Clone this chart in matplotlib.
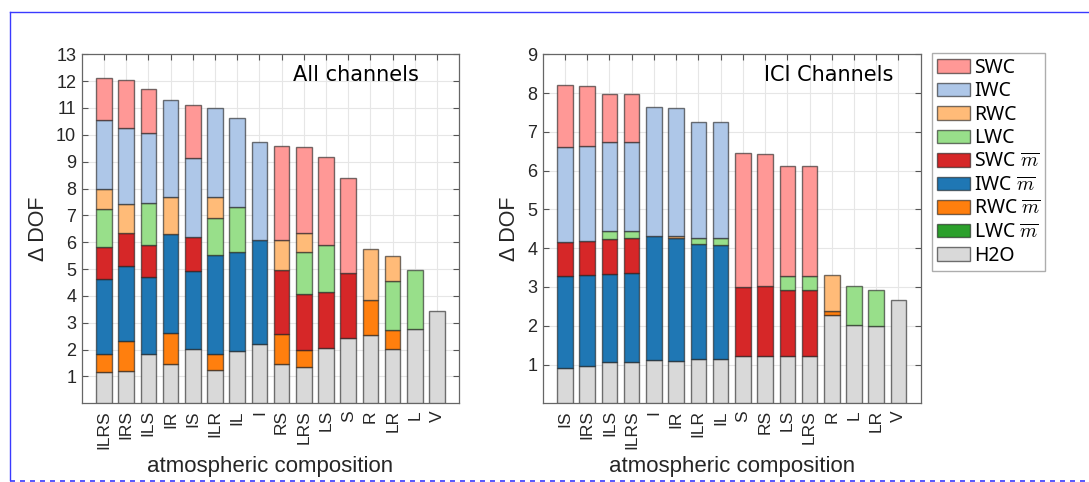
import numpy as np
import matplotlib
matplotlib.use("Agg")
import matplotlib.pyplot as plt
from matplotlib.lines import Line2D
from matplotlib.patches import Patch

# ---------------- data ----------------
cats_all = ['ILRS', 'IRS', 'ILS', 'IR', 'IS', 'ILR', 'IL', 'I', 'RS', 'LRS', 'LS', 'S', 'R', 'LR', 'L', 'V']
h2o_all  = [1.18, 1.20, 1.85, 1.45, 2.01, 1.23, 1.96, 2.20, 1.45, 1.34, 2.05, 2.42, 2.54, 2.03, 2.78, 3.42]
lwcm_all = [0, 0, 0, 0, 0, 0, 0, 0, 0, 0, 0, 0, 0, 0, 0, 0]
rwcm_all = [0.64, 1.12, 0, 1.18, 0, 0.62, 0, 0, 1.14, 0.63, 0, 0, 1.31, 0.69, 0, 0]
iwcm_all = [2.82, 2.78, 2.86, 3.67, 2.92, 3.66, 3.66, 3.88, 0, 0, 0, 0, 0, 0, 0, 0]
swcm_all = [1.17, 1.26, 1.17, 0, 1.27, 0, 0, 0, 2.36, 2.09, 2.08, 2.42, 0, 0, 0, 0]
lwc_all  = [1.44, 0, 1.59, 0, 0, 1.40, 1.68, 0, 0, 1.59, 1.75, 0, 0, 1.82, 2.20, 0]
rwc_all  = [0.72, 1.07, 0, 1.38, 0, 0.79, 0, 0, 1.15, 0.71, 0, 0, 1.88, 0.94, 0, 0]
iwc_all  = [2.59, 2.83, 2.59, 3.60, 2.92, 3.30, 3.33, 3.65, 0, 0, 0, 0, 0, 0, 0, 0]
swc_all  = [1.57, 1.80, 1.66, 0, 2.01, 0, 0, 0, 3.50, 3.19, 3.30, 3.57, 0, 0, 0, 0]

cats_ici = ['IS', 'IRS', 'ILS', 'ILRS', 'I', 'IR', 'ILR', 'IL', 'S', 'RS', 'LS', 'LRS', 'R', 'L', 'LR', 'V']
h2o_ici  = [0.91, 0.95, 1.06, 1.06, 1.11, 1.08, 1.13, 1.13, 1.23, 1.23, 1.23, 1.23, 2.28, 2.01, 1.99, 2.66]
lwcm_ici = [0, 0, 0, 0, 0, 0, 0, 0, 0, 0, 0, 0, 0, 0, 0, 0]
rwcm_ici = [0, 0, 0, 0, 0, 0, 0, 0, 0, 0, 0, 0, 0.10, 0, 0, 0]
iwcm_ici = [2.37, 2.35, 2.28, 2.29, 3.21, 3.18, 2.98, 2.96, 0, 0, 0, 0, 0, 0, 0, 0]
swcm_ici = [0.87, 0.88, 0.89, 0.90, 0, 0, 0, 0, 1.77, 1.79, 1.69, 1.69, 0, 0, 0, 0]
lwc_ici  = [0, 0, 0.22, 0.20, 0, 0, 0.15, 0.16, 0, 0, 0.35, 0.35, 0, 1.01, 0.92, 0]
rwc_ici  = [0, 0, 0, 0, 0, 0.05, 0, 0, 0, 0, 0, 0, 0.92, 0, 0, 0]
iwc_ici  = [2.45, 2.45, 2.28, 2.28, 3.32, 3.31, 2.99, 3.00, 0, 0, 0, 0, 0, 0, 0, 0]
swc_ici  = [1.61, 1.56, 1.25, 1.25, 0, 0, 0, 0, 3.45, 3.40, 2.85, 2.84, 0, 0, 0, 0]

legend_labels = ['SWC', 'IWC', 'RWC', 'LWC',
                 r'SWC $\overline{m}$', r'IWC $\overline{m}$', r'RWC $\overline{m}$', r'LWC $\overline{m}$',
                 'H2O']
legend_colors = ['#ff9896', '#aec7e8', '#ffbb78', '#98df8a',
                 '#d62728', '#1f77b4', '#ff7f0e', '#2ca02c', '#d9d9d9']
color_map = dict(zip(['SWC', 'IWC', 'RWC', 'LWC', 'SWCm', 'IWCm', 'RWCm', 'LWCm', 'H2O'], legend_colors))

stack_order = ['H2O', 'LWCm', 'RWCm', 'IWCm', 'SWCm', 'LWC', 'RWC', 'IWC', 'SWC']

plt.rcParams['font.family'] = ['Liberation Sans', 'DejaVu Sans']
plt.rcParams['mathtext.fontset'] = 'cm'

W, H = 1089, 482
fig = plt.figure(figsize=(W / 100, H / 100), dpi=100)


def fx(px):
    return px / W


def fy(py):
    return 1 - py / H


def draw(ax, cats, comps, ymax, title, title_x):
    x = np.arange(1, len(cats) + 1)
    bottom = np.zeros(len(cats))
    for key in stack_order:
        vals = np.asarray(comps[key], dtype=float)
        m = vals > 0
        if m.any():
            ax.bar(x[m], vals[m], bottom=bottom[m], width=0.7, color=color_map[key],
                   edgecolor=(0.1, 0.1, 0.1, 0.6), linewidth=1.0, zorder=3)
        bottom = bottom + vals
    ax.set_xlim(0, 17)
    ax.set_ylim(0, ymax)
    ax.set_xticks(x)
    ax.set_xticklabels(cats, rotation=90, fontsize=12.5, color='#262626')
    ax.set_yticks(np.arange(1, ymax + 1))
    ax.tick_params(axis='y', labelsize=13, labelcolor='#262626', pad=4)
    ax.tick_params(direction='in', top=True, right=True, length=4, width=0.8, color='#555555')
    ax.tick_params(axis='x', pad=5)
    ax.grid(True, color='#e6e6e6', linewidth=0.8, zorder=0)
    ax.set_axisbelow(True)
    for s in ax.spines.values():
        s.set_color('#666666')
        s.set_linewidth(0.9)
    ax.set_ylabel('\u0394 DOF', fontsize=15.5, color='#262626', labelpad=5)
    ax.set_xlabel('atmospheric composition', fontsize=16, color='#262626', labelpad=5)
    ax.text(title_x, 0.94, title, transform=ax.transAxes, ha='center', va='center',
            fontsize=15, family='DejaVu Sans', color='black')


ax1 = fig.add_axes([fx(81.7), fy(403.3), fx(459.3) - fx(81.7), fy(54.3) - fy(403.3)])
ax2 = fig.add_axes([fx(542.7), fy(403.3), fx(920.7) - fx(542.7), fy(54.3) - fy(403.3)])

draw(ax1, cats_all, {'H2O': h2o_all, 'LWCm': lwcm_all, 'RWCm': rwcm_all, 'IWCm': iwcm_all,
                     'SWCm': swcm_all, 'LWC': lwc_all, 'RWC': rwc_all, 'IWC': iwc_all, 'SWC': swc_all},
     13, 'All channels', 0.725)
draw(ax2, cats_ici, {'H2O': h2o_ici, 'LWCm': lwcm_ici, 'RWCm': rwcm_ici, 'IWCm': iwcm_ici,
                     'SWCm': swcm_ici, 'LWC': lwc_ici, 'RWC': rwc_ici, 'IWC': iwc_ici, 'SWC': swc_ici},
     9, 'ICI Channels', 0.757)

handles = [Patch(facecolor=c, edgecolor=(0.1, 0.1, 0.1, 0.6), linewidth=1.0) for c in legend_colors]
leg = fig.legend(handles, legend_labels, loc='upper left', bbox_to_anchor=(fx(932), fy(53)),
                 bbox_transform=fig.transFigure, frameon=True, fancybox=False,
                 prop={'family': 'Noto Sans', 'size': 14},
                 handlelength=1.7, handleheight=0.72, handletextpad=0.2,
                 labelspacing=0.18, borderpad=0.25, borderaxespad=0)
leg.get_frame().set_edgecolor('#999999')
leg.get_frame().set_linewidth(1.0)

# outer frame lines of the screenshot
blue = '#3a3aff'
fig.add_artist(Line2D([fx(10), 1], [fy(12), fy(12)], color=blue, lw=1.0, transform=fig.transFigure))
fig.add_artist(Line2D([fx(10), fx(10)], [fy(12), fy(480)], color=blue, lw=1.0, transform=fig.transFigure))
fig.add_artist(Line2D([fx(10), 1], [fy(480.5), fy(480.5)], color=blue, lw=1.2, ls=(0, (3, 3)),
                      transform=fig.transFigure))

fig.savefig('out.png', dpi=100)
